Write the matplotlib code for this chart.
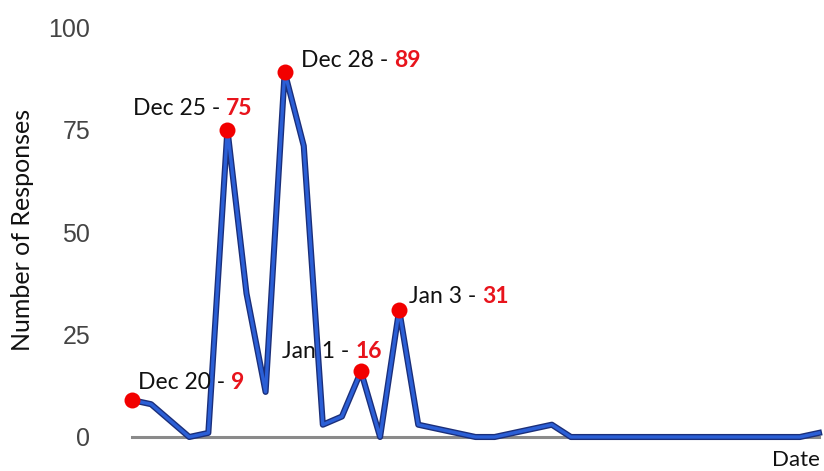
import matplotlib.pyplot as plt
import pandas as pd

# daily response counts, Dec 20 through Jan 25
dates = pd.date_range('2013-12-20', '2014-01-25', freq='D')
responses = [9, 8, 4, 0, 1, 75, 35, 11, 89, 71, 3, 5,
             16, 0, 31, 3, 2, 1, 0, 0, 1, 2, 3, 0,
             0, 0, 0, 0, 0, 0, 0, 0, 0, 0, 0, 0, 1]

# highlighted days: label, value, text offset (px), alignment
peak_labels = ['Dec 20', 'Dec 25', 'Dec 28', 'Jan 1', 'Jan 3']
peak_dates = pd.to_datetime(['2013-12-20', '2013-12-25', '2013-12-28',
                             '2014-01-01', '2014-01-03'])
peak_values = [9, 75, 89, 16, 31]
offsets = [(6, 18, 'left'), (25, 21, 'right'), (16, 12, 'left'),
           (21, 20, 'right'), (10, 13, 'left')]

font = ['Lato', 'DejaVu Sans']

fig = plt.figure(figsize=(8.24, 4.71), dpi=100)
# axes sized in pixels so the day grid lands where it should
ax = fig.add_axes([132 / 824, (471 - 437) / 471, (819 - 132) / 824, 410 / 471])

ax.axhline(0, color='#8a8a8a', lw=2.2, zorder=1, clip_on=False)
ax.plot(dates, responses, color='#1b2f7a', lw=4.4, solid_joinstyle='round',
        zorder=2, clip_on=False)
ax.plot(dates, responses, color='#2b5fd6', lw=2.4, solid_joinstyle='round',
        zorder=3, clip_on=False)
ax.plot(peak_dates, peak_values, 'o', color='#f20000', ms=11.5, mec='none',
        zorder=4, clip_on=False)

for lab, d, v, (dx, dy, ha) in zip(peak_labels, peak_dates, peak_values, offsets):
    if ha == 'left':
        t1 = ax.annotate(lab + ' - ', xy=(d, v), xytext=(dx, dy),
                         textcoords='offset pixels', ha='left', va='center',
                         fontsize=16.5, family=font, color='#111111')
        ax.annotate(str(v), xy=(1, 0), xycoords=t1, ha='left', va='bottom',
                    fontsize=16.5, family=font, weight='bold', color='#e8141c')
    else:
        t2 = ax.annotate(str(v), xy=(d, v), xytext=(dx, dy),
                         textcoords='offset pixels', ha='right', va='center',
                         fontsize=16.5, family=font, weight='bold', color='#e8141c')
        ax.annotate(lab + ' - ', xy=(0, 0), xycoords=t2, ha='right', va='bottom',
                    fontsize=16.5, family=font, color='#111111')

ax.set_xlim(dates[0], dates[-1])
ax.set_ylim(0, 100)
ax.set_yticks([0, 25, 50, 75, 100])
ax.tick_params(axis='y', length=0, pad=30, labelsize=18, labelcolor='#444444')
ax.set_xticks([])
for lbl in ax.get_yticklabels():
    lbl.set_family(['Liberation Sans', 'DejaVu Sans'])
for s in ax.spines.values():
    s.set_visible(False)

fig.text(23 / 824, 1 - 230 / 471, 'Number of Responses', rotation=90,
         ha='center', va='center', fontsize=18, family=font, color='#111111')
fig.text(820 / 824, 1 - 460 / 471, 'Date', ha='right', va='center',
         fontsize=16, family=font, color='#111111')

fig.savefig('out.png', dpi=100, facecolor='white')
